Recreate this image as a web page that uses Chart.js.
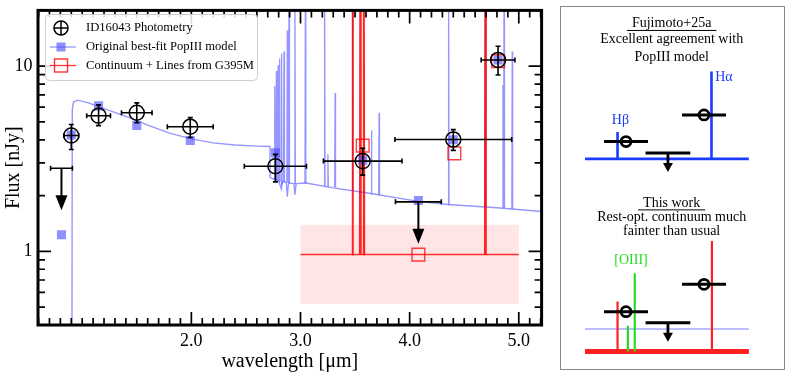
<!DOCTYPE html>
<html>
<head>
<meta charset="utf-8">
<script src="https://cdn.jsdelivr.net/npm/chart.js@4.4.0/dist/chart.umd.min.js"></script>
<style>
  html, body { margin: 0; padding: 0; background: #fff; }
  body { width: 793px; height: 382px; position: relative; overflow: hidden; }
  #sed { position: absolute; left: 0; top: 0; }
  #sketchBox { position: absolute; left: 560px; top: 6px; width: 223px; height: 362px; border: 1.5px solid #888; }
  #sketch { position: absolute; left: 0; top: 0; }
</style>
</head>
<body>
<canvas id="sed" width="552" height="382"></canvas>
<div id="sketchBox"><canvas id="sketch" width="223" height="362"></canvas></div>
<script>
const serif = "'Liberation Serif', 'DejaVu Serif', serif";

// ID16043 photometry [um, nJy]
const photWave = [0.90, 1.15, 1.50, 1.99, 2.77, 3.57, 4.40, 4.81];
const photWaveErr = [0.068, 0.109, 0.14, 0.21, 0.285, 0.36, 0.535, 0.155];
const photFlux = [4.22, 5.40, 5.60, 4.71, 2.88, 3.07, 4.02, 10.8];
const photFluxHi = [4.84, 6.18, 6.33, 5.27, 3.34, 3.60, 4.54, 12.8];
const photFluxLo = [3.55, 4.77, 4.95, 4.12, 2.37, 2.58, 3.51, 8.95];

// upper limits (F814W, F410M)
const limWave = [0.81, 4.08];
const limWaveErr = [0.10, 0.21];
const limFlux = [2.81, 1.85];

// original PopIII model: synthetic photometry
const modelPhotWave = [0.81, 0.90, 1.15, 1.50, 1.99, 2.77, 3.57, 4.08, 4.40, 4.81];
const modelPhotFlux = [1.23, 4.25, 6.1, 4.78, 3.97, 3.4, 3.1, 1.88, 4.0, 10.8];

// original PopIII model: continuum
const modelContWave = [0.895, 0.906, 0.909, 0.92, 0.96, 1.05, 1.20, 1.40, 1.60, 1.80, 2.00, 2.20, 2.40, 2.60, 2.720, 2.722,
  2.76, 2.80, 2.825, 2.835, 2.87, 2.879, 2.89, 2.94, 2.949, 2.96, 3.05, 3.30, 3.60, 4.08, 4.35, 4.80, 5.21];
const modelContFlux = [0.3, 0.3, 5.8, 6.4, 6.55, 6.35, 5.9, 5.35, 4.8, 4.35, 4.05, 3.85, 3.75, 3.7, 3.68, 2.5,
  2.45, 2.4, 2.17, 2.38, 2.35, 1.97, 2.34, 2.32, 2.02, 2.32, 2.34, 2.2, 2.07, 1.86, 1.79, 1.72, 1.64];

// original PopIII model: emission lines
const modelLineWave = [2.764, 2.779, 2.795, 2.809, 2.827, 2.849, 2.879, 2.895, 2.949, 3.045, 3.221, 3.251, 3.317, 3.477, 3.65, 3.72, 4.357, 4.694, 4.855, 4.865, 4.94];
const modelLineBase = [2.45, 2.43, 2.4, 2.38, 2.3, 2.37, 2.35, 2.34, 2.32, 2.34, 2.25, 2.24, 2.22, 2.14, 2.05, 2.02, 1.79, 1.74, 1.72, 1.72, 1.70];
const modelLinePeak = [7.8, 9.4, 10.1, 11.0, 11.7, 12.0, 15.6, 30, 30, 30, 30, 3.34, 7.17, 30, 4.5, 5.6, 30, 30, 7.9, 30, 12.0];

// continuum + lines from G395M
const g395Wave = [3.0, 5.0];
const g395Cont = [0.96, 0.96];
const g395LineWave = [3.477, 3.548, 3.580, 4.694];
const g395LinePeak = [40, 40, 40, 40];
const bandWave = [3.0, 5.0];
const bandFlux = [0.52, 1.39];
const g395PhotWave = [3.57, 4.08, 4.41, 4.81];
const g395PhotFlux = [3.72, 0.96, 3.38, 10.65];

const xMajorTicks = [2, 3, 4, 5];
const yMajorTicks = [1, 10];
const yMinorTicks = [0.4, 0.5, 0.6, 0.7, 0.8, 0.9, 2, 3, 4, 5, 6, 7, 8, 9];

const pts = (xs, ys) => xs.map((v, i) => ({ x: v, y: ys[i] }));
const spikes = (wave, base, peak) => wave.flatMap((w, i) => [
  { x: w - 0.004, y: base[i] }, { x: w, y: peak[i] }, { x: w + 0.004, y: base[i] }, { x: w, y: null }
]);

function drawArrow(ctx, x, y0, y1, headW, headL, lw) {
  ctx.beginPath();
  ctx.lineWidth = lw;
  ctx.moveTo(x, y0); ctx.lineTo(x, y1 - headL + 1);
  ctx.stroke();
  ctx.beginPath();
  ctx.moveTo(x - headW / 2, y1 - headL); ctx.lineTo(x + headW / 2, y1 - headL); ctx.lineTo(x, y1);
  ctx.closePath(); ctx.fill();
}

const sedDecor = {
  id: 'sedDecor',
  beforeDatasetsDraw(chart) {
    const { ctx, scales: { x, y } } = chart;
    const x0 = x.getPixelForValue(bandWave[0]), x1 = x.getPixelForValue(bandWave[1]);
    const y0 = y.getPixelForValue(bandFlux[1]), y1 = y.getPixelForValue(bandFlux[0]);
    ctx.save();
    ctx.fillStyle = 'rgba(255, 0, 0, 0.1)';
    ctx.fillRect(x0, y0, x1 - x0, y1 - y0);
    ctx.restore();
  },
  afterDatasetsDraw(chart) {
    const { ctx, chartArea: a, scales: { x, y } } = chart;
    ctx.save();
    ctx.strokeStyle = '#000';
    ctx.fillStyle = '#000';
    ctx.lineWidth = 1.6;

    // error bars
    photWave.forEach((w, i) => {
      const px = x.getPixelForValue(w), py = y.getPixelForValue(photFlux[i]);
      const xl = x.getPixelForValue(w - photWaveErr[i]), xr = x.getPixelForValue(w + photWaveErr[i]);
      const yt = y.getPixelForValue(photFluxHi[i]), yb = y.getPixelForValue(photFluxLo[i]);
      ctx.beginPath();
      ctx.moveTo(xl, py); ctx.lineTo(xr, py);
      ctx.moveTo(px, yt); ctx.lineTo(px, yb);
      ctx.moveTo(xl, py - 2.5); ctx.lineTo(xl, py + 2.5);
      ctx.moveTo(xr, py - 2.5); ctx.lineTo(xr, py + 2.5);
      ctx.moveTo(px - 2.5, yt); ctx.lineTo(px + 2.5, yt);
      ctx.moveTo(px - 2.5, yb); ctx.lineTo(px + 2.5, yb);
      ctx.stroke();
    });

    // upper limits
    limWave.forEach((w, i) => {
      const px = x.getPixelForValue(w), py = y.getPixelForValue(limFlux[i]);
      const xl = x.getPixelForValue(w - limWaveErr[i]), xr = x.getPixelForValue(w + limWaveErr[i]);
      ctx.lineWidth = 1.6;
      ctx.beginPath();
      ctx.moveTo(xl, py); ctx.lineTo(xr, py);
      ctx.moveTo(xl, py - 2.5); ctx.lineTo(xl, py + 2.5);
      ctx.moveTo(xr, py - 2.5); ctx.lineTo(xr, py + 2.5);
      ctx.stroke();
      drawArrow(ctx, px, py, py + 42, 12, 15, 2);
    });

    // frame + inward ticks
    ctx.lineWidth = 3;
    ctx.strokeRect(a.left, a.top, a.right - a.left, a.bottom - a.top);
    ctx.lineWidth = 1.7;
    ctx.beginPath();
    for (let k = 6; k <= 52; k++) {
      const major = k % 10 === 0 && k >= 20;
      const len = major ? 13 : 7;
      const px = x.getPixelForValue(k / 10);
      ctx.moveTo(px, a.bottom); ctx.lineTo(px, a.bottom - len);
      ctx.moveTo(px, a.top); ctx.lineTo(px, a.top + len);
    }
    yMajorTicks.concat(yMinorTicks).forEach(v => {
      const len = yMajorTicks.includes(v) ? 13 : 7;
      const py = y.getPixelForValue(v);
      ctx.moveTo(a.left, py); ctx.lineTo(a.left + len, py);
      ctx.moveTo(a.right, py); ctx.lineTo(a.right - len, py);
    });
    ctx.stroke();

    // tick labels and axis titles
    ctx.fillStyle = '#000';
    ctx.textBaseline = 'middle';
    ctx.font = '18px ' + serif;
    ctx.textAlign = 'center';
    xMajorTicks.forEach(v => ctx.fillText(v.toFixed(1), x.getPixelForValue(v), a.bottom + 16));
    ctx.textAlign = 'right';
    yMajorTicks.forEach(v => ctx.fillText(String(v), a.left - 5.5, y.getPixelForValue(v)));
    ctx.font = '20px ' + serif;
    ctx.textAlign = 'center';
    ctx.fillText('wavelength [μm]', (a.left + a.right) / 2, 362);
    ctx.save();
    ctx.translate(14, (a.top + a.bottom) / 2);
    ctx.rotate(-Math.PI / 2);
    ctx.fillText('Flux [nJy]', 0, 0);
    ctx.restore();

    // legend
    ctx.fillStyle = 'rgba(255,255,255,0.85)';
    ctx.strokeStyle = '#cfcfcf';
    ctx.lineWidth = 1;
    ctx.beginPath();
    ctx.roundRect(45.5, 14.5, 212, 66, 4);
    ctx.fill(); ctx.stroke();

    const rows = [28, 47, 65.5];
    const mx = 61;
    ctx.strokeStyle = '#000';
    ctx.lineWidth = 1.5;
    ctx.beginPath(); ctx.arc(mx, rows[0], 7, 0, Math.PI * 2); ctx.stroke();
    ctx.beginPath();
    ctx.moveTo(mx - 7, rows[0]); ctx.lineTo(mx + 7, rows[0]);
    ctx.moveTo(mx, rows[0] - 7); ctx.lineTo(mx, rows[0] + 7);
    ctx.stroke();

    ctx.strokeStyle = 'rgba(80,80,255,0.6)';
    ctx.lineWidth = 1.3;
    ctx.beginPath(); ctx.moveTo(50, rows[1]); ctx.lineTo(76, rows[1]); ctx.stroke();
    ctx.fillStyle = 'rgba(70,70,255,0.6)';
    ctx.fillRect(mx - 4.5, rows[1] - 4.5, 9, 9);

    ctx.strokeStyle = 'rgba(255,0,0,0.8)';
    ctx.beginPath(); ctx.moveTo(50, rows[2]); ctx.lineTo(76, rows[2]); ctx.stroke();
    ctx.lineWidth = 1.4;
    ctx.strokeRect(mx - 6.5, rows[2] - 6.5, 13, 13);

    ctx.fillStyle = '#000';
    ctx.font = '12.6px ' + serif;
    ctx.textBaseline = 'middle';
    ctx.textAlign = 'left';
    ctx.fillText('ID16043 Photometry', 86, rows[0]);
    ctx.fillText('Original best-fit PopIII model', 86, rows[1]);
    ctx.fillText('Continuum + Lines from G395M', 86, rows[2]);
    ctx.restore();
  }
};

new Chart(document.getElementById('sed'), {
  type: 'scatter',
  data: {
    datasets: [
      {
        label: 'ID16043 Photometry',
        data: pts(photWave, photFlux),
        pointStyle: 'circle', pointRadius: 7.5, borderWidth: 1.5,
        borderColor: '#000', backgroundColor: 'rgba(0,0,0,0)'
      },
      {
        label: 'Continuum + Lines from G395M (phot)',
        data: pts(g395PhotWave, g395PhotFlux),
        pointStyle: 'rect', pointRadius: 9, borderWidth: 1.4,
        borderColor: 'rgba(255,0,0,0.75)', backgroundColor: 'rgba(0,0,0,0)'
      },
      {
        label: 'Original best-fit PopIII model (phot)',
        data: pts(modelPhotWave, modelPhotFlux),
        pointStyle: 'rect', pointRadius: 6.4, borderWidth: 0,
        backgroundColor: 'rgba(70,70,255,0.6)'
      },
      {
        label: 'G395M lines',
        data: spikes(g395LineWave, g395LineWave.map(() => g395Cont[0]), g395LinePeak),
        showLine: true, pointRadius: 0, borderWidth: 2,
        borderColor: 'rgba(255,0,0,0.85)', spanGaps: false
      },
      {
        label: 'G395M continuum',
        data: pts(g395Wave, g395Cont),
        showLine: true, pointRadius: 0, borderWidth: 1.5,
        borderColor: 'rgba(255,0,0,0.8)'
      },
      {
        label: 'PopIII lines',
        data: spikes(modelLineWave, modelLineBase, modelLinePeak),
        showLine: true, pointRadius: 0, borderWidth: 1.3,
        borderColor: 'rgba(80,80,255,0.6)', spanGaps: false
      },
      {
        label: 'PopIII continuum',
        data: pts(modelContWave, modelContFlux),
        showLine: true, pointRadius: 0, borderWidth: 1.4,
        borderColor: 'rgba(80,80,255,0.6)'
      }
    ]
  },
  options: {
    responsive: false,
    animation: false,
    devicePixelRatio: 1,
    events: [],
    layout: { padding: { left: 38, right: 5, top: 7, bottom: 57 } },
    plugins: { legend: { display: false }, tooltip: { enabled: false } },
    scales: {
      x: { type: 'linear', min: 0.595, max: 5.209, display: false },
      y: { type: 'logarithmic', min: 0.4, max: 20, display: false }
    }
  },
  plugins: [sedDecor]
});

// ---- schematic panel (arbitrary units 0-100) ----
const sketchBaseX = [7.8, 86.8];
const topBaseY = 58.4;
const topLineX = [23.5, 68.8];
const topLineTop = [66.2, 83.6];
const botBaseY = 2.8;
const botContY = 9.3;
const botRedX = [23.5, 69.0];
const botRedTop = [17.2, 34.7];
const botGreenX = [28.5, 31.8];
const botGreenTop = [10.2, 25.4];
const detX = [27.6, 65.2];
const detHalfWidth = 10.6;
const topDetY = [63.4, 71.1];
const botDetY = [14.3, 22.2];
const limX = 47.8;
const limHalfWidth = 10.8;
const limY = [60.1, 11.1];
const limTipY = [54.6, 5.6];

const segs = list => list.flatMap(([x0, y0, x1, y1]) => [{ x: x0, y: y0 }, { x: x1, y: y1 }, { x: x1, y: null }]);
const lineSet = (data, color, width) => ({
  data, showLine: true, pointRadius: 0, borderColor: color, borderWidth: width, spanGaps: false
});

const sketchDecor = {
  id: 'sketchDecor',
  afterDatasetsDraw(chart) {
    const { ctx, scales: { x, y } } = chart;
    ctx.save();
    ctx.fillStyle = '#000';
    ctx.strokeStyle = '#000';
    limY.forEach((v, i) => {
      drawArrow(ctx, x.getPixelForValue(limX), y.getPixelForValue(v), y.getPixelForValue(limTipY[i]), 10, 9, 2.8);
    });
    const text = (s, vx, vy, color, align, underline) => {
      const px = x.getPixelForValue(vx), py = y.getPixelForValue(vy);
      ctx.fillStyle = color;
      ctx.textAlign = align;
      ctx.fillText(s, px, py);
      if (underline) {
        const w = ctx.measureText(s).width;
        ctx.strokeStyle = color;
        ctx.lineWidth = 1;
        ctx.beginPath();
        ctx.moveTo(px - w / 2 - 5, py + 7); ctx.lineTo(px + w / 2 + 5, py + 7);
        ctx.stroke();
      }
    };
    ctx.font = '14px ' + serif;
    ctx.textBaseline = 'middle';
    text('Fujimoto+25a', 49.6, 97.5, '#000', 'center', true);
    text('Excellent agreement with', 49.6, 92.9, '#000', 'center');
    text('PopIII model', 49.6, 87.8, '#000', 'center');
    text('Hα', 70.6, 81.9, '#1a3cff', 'left');
    text('Hβ', 24.9, 69.5, '#1a3cff', 'center');
    text('This work', 49.6, 45.7, '#000', 'center', true);
    text('Rest-opt. continuum much', 49.6, 41.5, '#000', 'center');
    text('fainter than usual', 49.6, 37.6, '#000', 'center');
    text('[OIII]', 30.0, 29.1, '#22dd22', 'center');
    ctx.restore();
  }
};

new Chart(document.getElementById('sketch'), {
  type: 'scatter',
  data: {
    datasets: [
      {
        data: pts(detX, topDetY).concat(pts(detX, botDetY)),
        pointStyle: 'circle', pointRadius: 5, borderWidth: 2.8,
        borderColor: '#000', backgroundColor: 'rgba(0,0,0,0)'
      },
      lineSet(segs([
        ...detX.map((v, i) => [v - detHalfWidth, topDetY[i], v + detHalfWidth, topDetY[i]]),
        ...detX.map((v, i) => [v - detHalfWidth, botDetY[i], v + detHalfWidth, botDetY[i]]),
        ...limY.map(v => [limX - limHalfWidth, v, limX + limHalfWidth, v])
      ]), '#000', 3),
      lineSet(segs([
        [sketchBaseX[0], topBaseY, sketchBaseX[1], topBaseY],
        ...topLineX.map((v, i) => [v, topBaseY, v, topLineTop[i]])
      ]), '#1a3cff', 2.6),
      lineSet(segs(botGreenX.map((v, i) => [v, botBaseY, v, botGreenTop[i]])), '#22dd22', 2.2),
      lineSet(segs([
        [sketchBaseX[0], botBaseY, sketchBaseX[1], botBaseY],
        ...botRedX.map((v, i) => [v, botBaseY, v, botRedTop[i]])
      ]), '#ff2020', 2.2),
      lineSet(segs([[sketchBaseX[0], botBaseY, sketchBaseX[1], botBaseY]]), '#ff2020', 5),
      lineSet(segs([[sketchBaseX[0], botContY, sketchBaseX[1], botContY]]), 'rgba(110,110,255,0.45)', 2)
    ]
  },
  options: {
    responsive: false,
    animation: false,
    devicePixelRatio: 1,
    events: [],
    layout: { padding: 0 },
    plugins: { legend: { display: false }, tooltip: { enabled: false } },
    scales: {
      x: { type: 'linear', min: 0, max: 100, display: false },
      y: { type: 'linear', min: 0, max: 100, display: false }
    }
  },
  plugins: [sketchDecor]
});
</script>
</body>
</html>
